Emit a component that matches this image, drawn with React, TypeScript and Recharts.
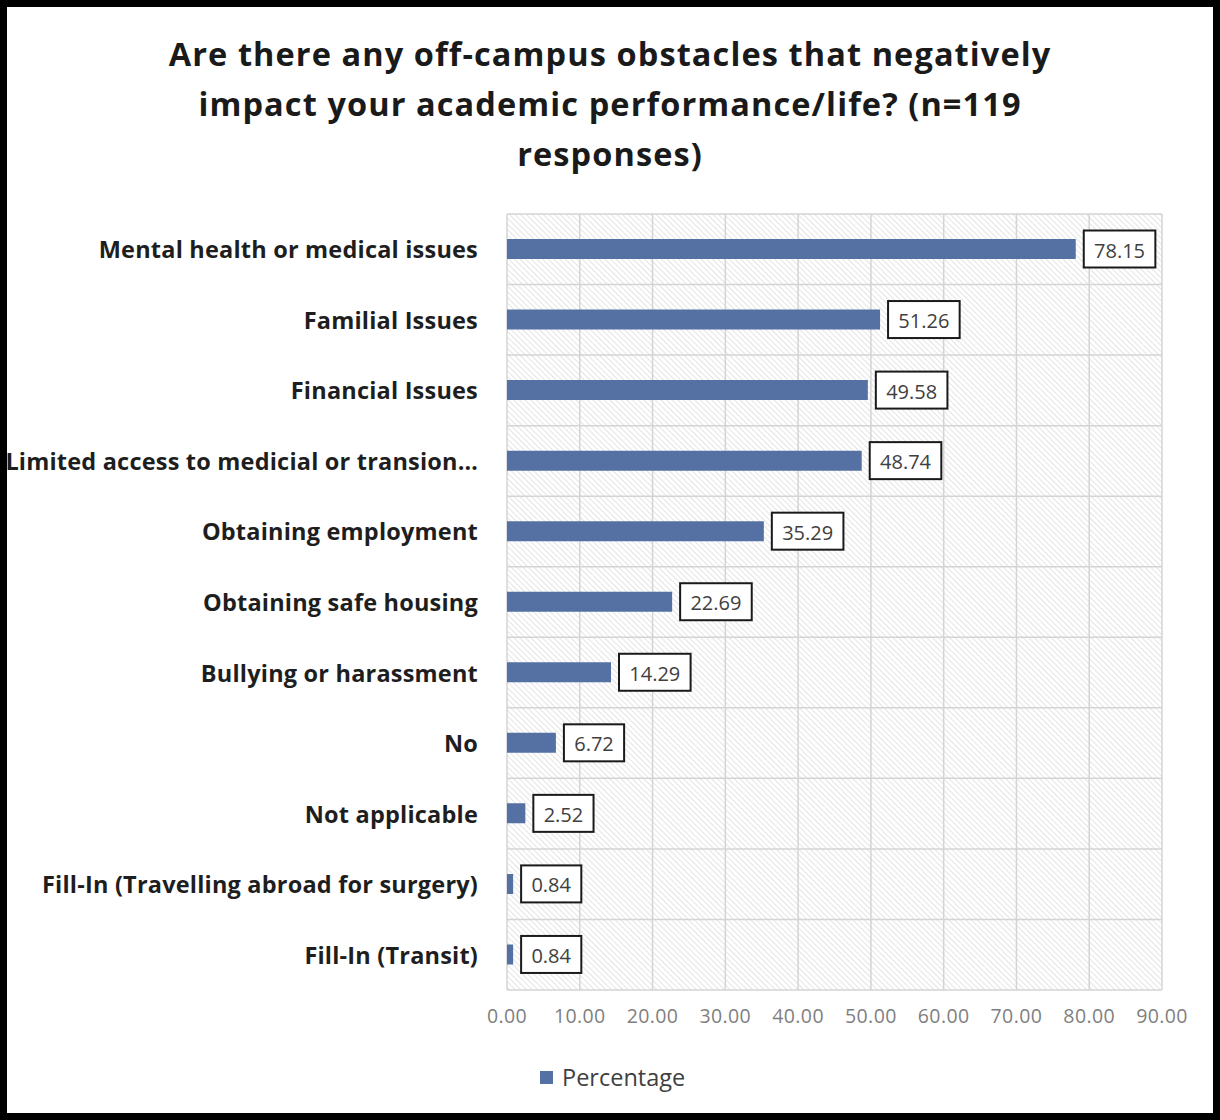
import React from 'react';
import { BarChart, Bar, XAxis, YAxis, CartesianGrid, LabelList } from 'recharts';

const categories = [
  'Mental health or medical issues',
  'Familial Issues',
  'Financial Issues',
  'Limited access to medicial or transion\u2026',
  'Obtaining employment',
  'Obtaining safe housing',
  'Bullying or harassment',
  'No',
  'Not applicable',
  'Fill-In (Travelling abroad for surgery)',
  'Fill-In (Transit)',
];
const percentages = [78.15, 51.26, 49.58, 48.74, 35.29, 22.69, 14.29, 6.72, 2.52, 0.84, 0.84];
const xTicks = [0, 10, 20, 30, 40, 50, 60, 70, 80, 90];
const titleLines = [
  'Are there any off-campus obstacles that negatively',
  'impact your academic performance/life? (n=119',
  'responses)',
];
const seriesName = 'Percentage';

const data = categories.map((name, i) => ({ name, value: percentages[i] }));

const FONT = '"Open Sans", Lato, sans-serif';
const BAR_COLOR = '#5570a3';

const YTick = (props: any) => {
  const { x, y, payload } = props;
  return (
    <text x={x} y={y} textAnchor="end" dominantBaseline="central" fontFamily={FONT} fontWeight={700} fontSize={23.5} letterSpacing={0.2} fill="#1e1e1e">
      {payload.value}
    </text>
  );
};

const ValueLabel = (props: any) => {
  const { x, y, width, height, value } = props;
  const s = Number(value).toFixed(2);
  const digits = s.replace('.', '').length;
  const tw = digits * 11.4 + 5;
  const bw = tw + 21;
  const bh = 37;
  const bx = x + width + 8;
  const cy = y + height / 2;
  return (
    <g>
      <rect x={bx} y={cy - bh / 2} width={bw} height={bh} fill="#fff" stroke="#1a1a1a" strokeWidth={2} />
      <text x={bx + bw / 2} y={cy + 1} textAnchor="middle" dominantBaseline="central" fontFamily={FONT} fontSize={20} fill="#404040">
        {s}
      </text>
    </g>
  );
};

export default function App() {
  const n = categories.length;
  return (
    <div style={{ position: 'absolute', left: 0, top: 0, width: 1220, height: 1120, boxSizing: 'border-box', border: '7px solid #000', background: '#fff', overflow: 'hidden' }}>
      <div style={{ position: 'absolute', left: -7, top: 22, width: 1220, textAlign: 'center', fontFamily: FONT, fontWeight: 700, fontSize: 32.5, letterSpacing: 1.1, lineHeight: '50px', color: '#1a1a1a' }}>
        {titleLines.map((l, i) => (
          <div key={i}>{l}</div>
        ))}
      </div>
      <div style={{ position: 'absolute', left: -7, top: -7 }}>
        <BarChart width={1220} height={1120} data={data} layout="vertical" margin={{ top: 214, right: 58, bottom: 0, left: 0 }} barSize={20}>
          <defs>
            <pattern id="hatch" patternUnits="userSpaceOnUse" width={4} height={4} patternTransform="rotate(-45)">
              <rect x={0} y={0} width={4} height={4} fill="#ffffff" />
              <line x1={0} y1={0} x2={0} y2={4} stroke="#d6d6d6" strokeWidth={1.3} />
            </pattern>
          </defs>
          <CartesianGrid
            fill="url(#hatch)"
            fillOpacity={1}
            stroke="#d4d4d4"
            strokeWidth={1.5}
            horizontalCoordinatesGenerator={({ offset }: any) =>
              Array.from({ length: n + 1 }, (_, i) => offset.top + (i * offset.height) / n)
            }
          />
          <XAxis
            type="number"
            domain={[0, 90]}
            ticks={xTicks}
            tickFormatter={(v: number) => v.toFixed(2)}
            axisLine={false}
            tickLine={false}
            tickSize={0}
            tickMargin={19}
            height={130}
            interval={0}
            tick={{ fontFamily: FONT, fontSize: 19.5, fill: '#7f7f7f', letterSpacing: 0.4 }}
          />
          <YAxis
            type="category"
            dataKey="name"
            width={507}
            axisLine={false}
            tickLine={false}
            tickSize={6}
            tickMargin={23}
            interval={0}
            tick={<YTick />}
          />
          <Bar dataKey="value" name={seriesName} fill={BAR_COLOR} isAnimationActive={false}>
            <LabelList dataKey="value" content={<ValueLabel />} />
          </Bar>
        </BarChart>
      </div>
      <div style={{ position: 'absolute', left: 533, top: 1054, display: 'flex', alignItems: 'center', fontFamily: FONT, fontSize: 23.5, color: '#404040' }}>
        <span style={{ display: 'inline-block', width: 13, height: 13, background: BAR_COLOR, marginRight: 9 }} />
        <span>{seriesName}</span>
      </div>
    </div>
  );
}
